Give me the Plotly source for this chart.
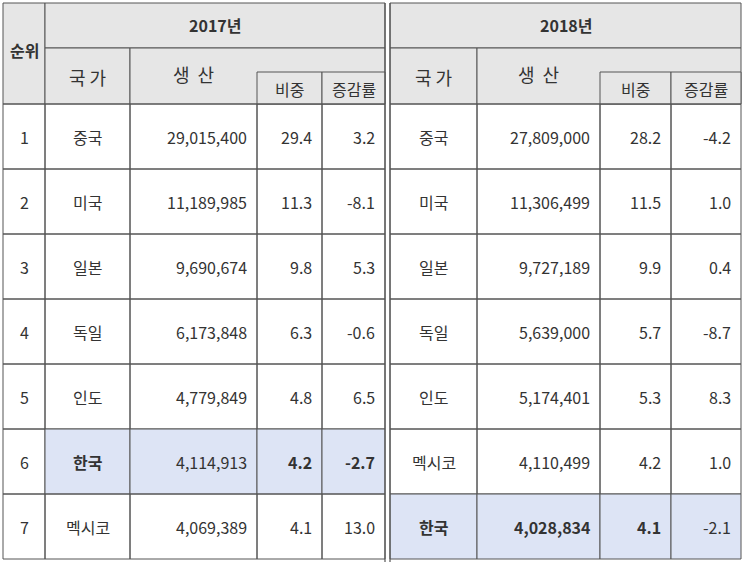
import plotly.graph_objects as go

# data
ranks = [1, 2, 3, 4, 5, 6, 7]
countries_2017 = ["중국", "미국", "일본", "독일", "인도", "한국", "멕시코"]
prod_2017 = [29015400, 11189985, 9690674, 6173848, 4779849, 4114913, 4069389]
share_2017 = [29.4, 11.3, 9.8, 6.3, 4.8, 4.2, 4.1]
change_2017 = [3.2, -8.1, 5.3, -0.6, 6.5, -2.7, 13.0]
countries_2018 = ["중국", "미국", "일본", "독일", "인도", "멕시코", "한국"]
prod_2018 = [27809000, 11306499, 9727189, 5639000, 5174401, 4110499, 4028834]
share_2018 = [28.2, 11.5, 9.9, 5.7, 5.3, 4.2, 4.1]
change_2018 = [-4.2, 1.0, 0.4, -8.7, 8.3, 1.0, -2.1]
years = ["2017년", "2018년"]
sub_headers = ["국 가", "생  산", "비중", "증감률"]

W, H = 745, 562
FONT = "Noto Sans CJK KR"
TXT = "#333333"
GRID = "#555555"
HEAD_BG = "#e6e6e6"
HILITE = "#dde4f5"

# column edges: rank | 2017 block | 2018 block
rank_x = (3, 45)
blocks = [[45, 130, 257, 322, 385], [390, 477, 600, 671, 741]]
y_top, y_mid, y_sub, y_head = 3, 48, 72, 104
row_h = 65

fig = go.Figure()
shapes, ann = [], []


def rect(x0, y0, x1, y1, fill=None, lw=1):
    shapes.append(dict(type="rect", x0=x0, y0=y0, x1=x1, y1=y1, xref="x", yref="y",
                       fillcolor=fill if fill else "rgba(0,0,0,0)",
                       line=dict(color=GRID, width=lw), layer="below"))


def text(x, y, s, anchor="center", bold=False, size=16):
    ann.append(dict(x=x, y=y, xref="x", yref="y", text=f"<b>{s}</b>" if bold else s,
                    showarrow=False, xanchor=anchor, yanchor="middle",
                    font=dict(family=FONT, size=size, color=TXT)))


# header
rect(rank_x[0], y_top, rank_x[1], y_head, HEAD_BG)
text(sum(rank_x) / 2, 50, "순위", bold=True, size=16)
for b, yr in zip(blocks, years):
    rect(b[0], y_top, b[4], y_mid, HEAD_BG)
    text((b[0] + b[4]) / 2, 25, yr, bold=True, size=16)
    rect(b[0], y_mid, b[1], y_head, HEAD_BG)
    rect(b[1], y_mid, b[4], y_head, HEAD_BG)
    rect(b[2], y_sub, b[3], y_head, HEAD_BG)
    rect(b[3], y_sub, b[4], y_head, HEAD_BG)
    text((b[0] + b[1]) / 2, 77, sub_headers[0], size=18)
    text((b[1] + b[2]) / 2, 74, sub_headers[1], size=18)
    text((b[2] + b[3]) / 2, 89, sub_headers[2], size=16)
    text((b[3] + b[4]) / 2, 89, sub_headers[3], size=16)

# body
tables = [(countries_2017, prod_2017, share_2017, change_2017),
          (countries_2018, prod_2018, share_2018, change_2018)]
for i, r in enumerate(ranks):
    y0 = y_head + i * row_h
    y1 = y0 + row_h
    yc = (y0 + y1) / 2
    rect(rank_x[0], y0, rank_x[1], y1)
    text(sum(rank_x) / 2, yc, str(r))
    for b, (c, p, s, ch) in zip(blocks, tables):
        kr = c[i] == "한국"
        fill = HILITE if kr else None
        for k in range(4):
            rect(b[k], y0, b[k + 1], y1, fill)
        text((b[0] + b[1]) / 2, yc, c[i], bold=kr)
        text(b[2] - 8, yc, f"{p[i]:,}", anchor="right", bold=kr and b is blocks[1])
        text(b[3] - 8, yc, f"{s[i]:.1f}", anchor="right", bold=kr)
        text(b[4] - 8, yc, f"{ch[i]:.1f}", anchor="right", bold=kr and b is blocks[0])

# double divider line between the two years
for xv in (blocks[0][4], blocks[1][0]):
    shapes.append(dict(type="line", x0=xv, x1=xv, y0=y_top, y1=H, xref="x", yref="y",
                       line=dict(color=GRID, width=1.2)))

fig.update_layout(
    width=W, height=H, margin=dict(l=0, r=0, t=0, b=0),
    paper_bgcolor="white", plot_bgcolor="white",
    xaxis=dict(range=[0, W], visible=False, fixedrange=True),
    yaxis=dict(range=[H, 0], visible=False, fixedrange=True),
    shapes=shapes, annotations=ann, showlegend=False,
)
fig.write_html("out.html", config={"displayModeBar": False},
               post_script="document.body.style.margin='0';")
